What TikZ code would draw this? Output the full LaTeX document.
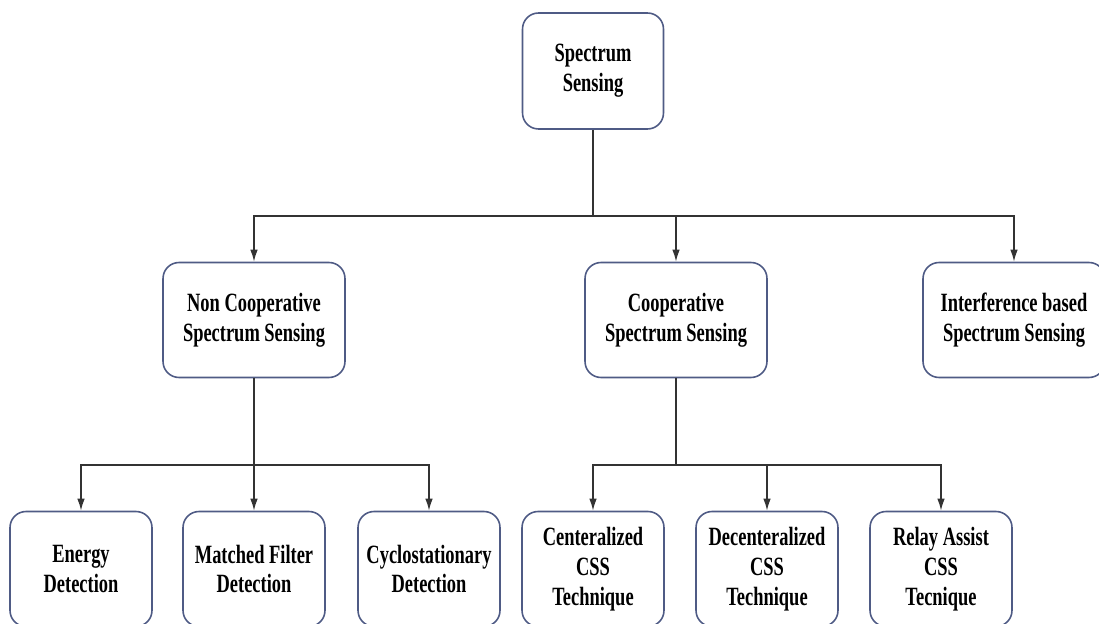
\documentclass[tikz,border=0pt]{standalone}
\usepackage{fontspec}
\setmainfont{Liberation Serif}[FakeStretch=0.70]
\usetikzlibrary{arrows.meta}
\definecolor{boxline}{HTML}{4F5B85}
\definecolor{linkline}{HTML}{333333}
\begin{document}
\begin{tikzpicture}[x=0.02cm,y=-0.02cm,
  box/.style={draw=boxline, line width=0.9pt, rounded corners=0.32cm, fill=white,
    align=center, inner sep=0pt, font=\bfseries\fontsize{15}{17}\selectfont},
  rootbox/.style={box, minimum width=2.82cm, minimum height=2.32cm},
  midbox/.style={box, minimum width=3.64cm, minimum height=2.3cm},
  leafbox/.style={box, minimum width=2.84cm, minimum height=2.3cm},
  link/.style={draw=linkline, line width=0.8pt},
  arr/.style={link, -{Latex[length=2.4mm,width=1.5mm]}}]
\useasboundingbox (0,0) rectangle (1099,624);
\clip (0,0) rectangle (1099,624);

% top
\node[rootbox] (ss) at (593,71) {Spectrum\\Sensing};

% second level
\node[midbox] (noncoop) at (254,320) {Non Cooperative\\Spectrum Sensing};
\node[midbox] (coop) at (676,320) {Cooperative\\Spectrum Sensing};
\node[midbox] (interf) at (1014,320) {Interference based\\Spectrum Sensing};

% third level
\node[leafbox] (energy) at (81,569) {Energy\\Detection};
\node[leafbox] (matched) at (254,569) {Matched Filter\\Detection};
\node[leafbox] (cyclo) at (429,569) {Cyclostationary\\Detection};
\node[leafbox] (central) at (593,569) {Centeralized\\CSS\\Technique};
\node[leafbox] (decentral) at (767,569) {Decenteralized\\CSS\\Technique};
\node[leafbox] (relay) at (941,569) {Relay Assist\\CSS\\Tecnique};

% junctions
\coordinate (j1) at (593,216);
\coordinate (j2) at (254,465);
\coordinate (j3) at (676,465);

\draw[link] (ss.south) -- (j1);
\draw[arr] (j1) -| (noncoop.north);
\draw[arr] (j1) -| (coop.north);
\draw[arr] (j1) -| (interf.north);

\draw[link] (noncoop.south) -- (j2);
\draw[arr] (j2) -| (energy.north);
\draw[arr] (j2) -- (matched.north);
\draw[arr] (j2) -| (cyclo.north);

\draw[link] (coop.south) -- (j3);
\draw[arr] (j3) -| (central.north);
\draw[arr] (j3) -| (decentral.north);
\draw[arr] (j3) -| (relay.north);
\end{tikzpicture}
\end{document}
